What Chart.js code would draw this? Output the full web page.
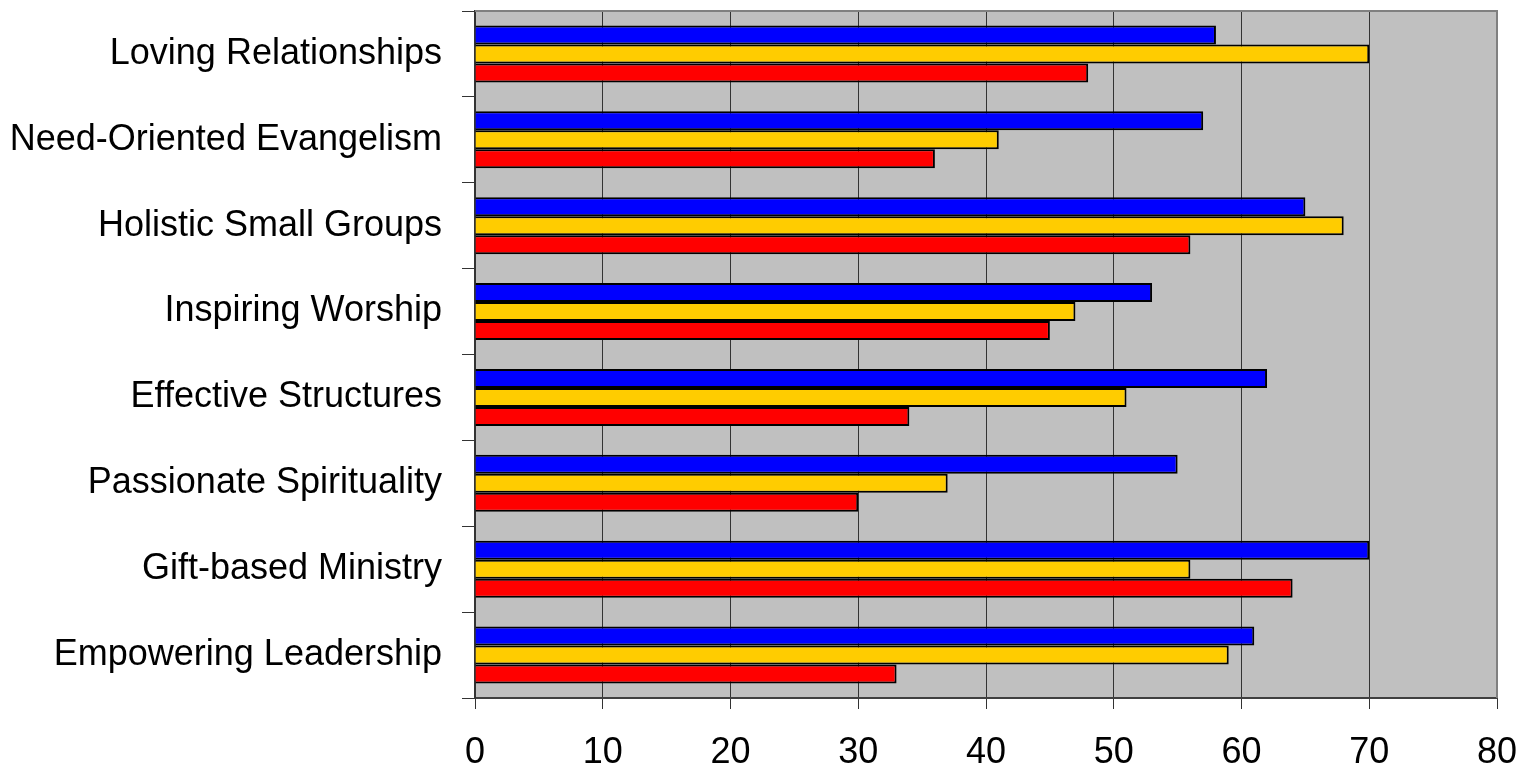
<!DOCTYPE html>
<html>
<head>
<meta charset="utf-8">
<script src="https://cdn.jsdelivr.net/npm/chart.js@4"></script>
<style>
html,body{margin:0;padding:0;background:#fff;}
#wrap{width:1519px;height:769px;position:relative;}
</style>
</head>
<body>
<div id="wrap"><canvas id="c" width="1519" height="769"></canvas></div>
<script>
const categories = [
  "Loving Relationships",
  "Need-Oriented Evangelism",
  "Holistic Small Groups",
  "Inspiring Worship",
  "Effective Structures",
  "Passionate Spirituality",
  "Gift-based Ministry",
  "Empowering Leadership"
];
const blueValues   = [58, 57, 65, 53, 62, 55, 70, 61];
const yellowValues = [70, 41, 68, 47, 51, 37, 56, 59];
const redValues    = [48, 36, 56, 45, 34, 30, 64, 33];
const xTicks = [0, 10, 20, 30, 40, 50, 60, 70, 80];

const plotBg = {
  id: 'plotBg',
  beforeDraw(chart) {
    const {ctx, chartArea: a} = chart;
    ctx.save();
    ctx.fillStyle = '#C0C0C0';
    ctx.fillRect(a.left, a.top, a.right - a.left, a.bottom - a.top);
    ctx.restore();
  },
  afterDatasetsDraw(chart) {
    const {ctx, chartArea: a} = chart;
    ctx.save();
    ctx.strokeStyle = '#808080';
    ctx.lineWidth = 2;
    ctx.beginPath();
    ctx.moveTo(a.left, a.top);
    ctx.lineTo(a.right, a.top);
    ctx.lineTo(a.right, a.bottom);
    ctx.stroke();
    ctx.restore();
  }
};

const font = {family: '"Liberation Sans", Arial, sans-serif', size: 36};

new Chart(document.getElementById('c'), {
  type: 'bar',
  data: {
    labels: categories,
    datasets: [
      {data: blueValues, backgroundColor: '#0000FF'},
      {data: yellowValues, backgroundColor: '#FFCC00'},
      {data: redValues, backgroundColor: '#FF0000'}
    ].map(d => Object.assign(d, {borderColor: '#000', borderWidth: 2, categoryPercentage: 0.665, barPercentage: 1.0}))
  },
  options: {
    indexAxis: 'y',
    responsive: false,
    animation: false,
    devicePixelRatio: 1,
    layout: {padding: {top: 11, right: 22, left: 0, bottom: 0}},
    plugins: {legend: {display: false}, tooltip: {enabled: false}},
    scales: {
      x: {
        min: 0, max: 80,
        afterBuildTicks(scale) { scale.ticks = xTicks.map(v => ({value: v})); },
        afterFit(scale) { scale.height = 71; scale.paddingLeft = 0; scale.paddingRight = 0; },
        grid: {color: '#333', lineWidth: 1, tickLength: 11, drawTicks: true},
        border: {display: true, color: '#404040', width: 2},
        ticks: {font, color: '#000', padding: 22, maxRotation: 0}
      },
      y: {
        afterFit(scale) { scale.width = 475; scale.paddingTop = 0; scale.paddingBottom = 0; },
        grid: {drawOnChartArea: false, drawTicks: true, tickLength: 13, color: '#333', offset: true},
        border: {display: true, color: '#333', width: 2},
        ticks: {font, color: '#000', padding: 20}
      }
    }
  },
  plugins: [plotBg]
});
</script>
</body>
</html>
